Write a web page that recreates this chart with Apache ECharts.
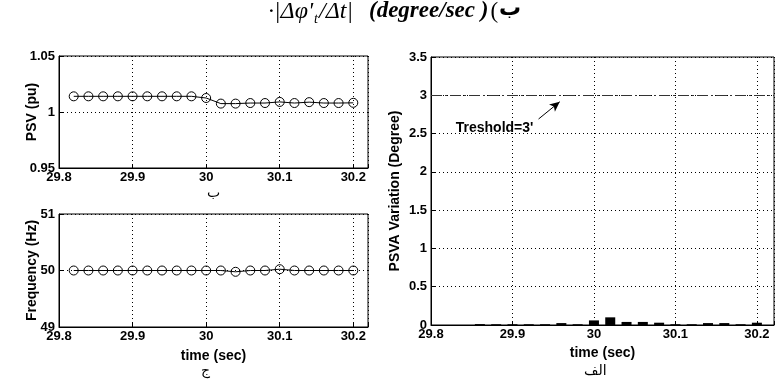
<!DOCTYPE html>
<html>
<head>
<meta charset="utf-8">
<script src="https://cdn.jsdelivr.net/npm/echarts@6/dist/echarts.min.js"></script>
<style>
  html, body { margin: 0; padding: 0; background: #fff; }
  #chart { width: 777px; height: 382px; }
</style>
</head>
<body>
<div id="chart"></div>
<script>
// Sample instants of the phasor estimates (s)
const sampleTimes = [29.82, 29.84, 29.86, 29.88, 29.90, 29.92, 29.94, 29.96, 29.98, 30.00,
                     30.02, 30.04, 30.06, 30.08, 30.10, 30.12, 30.14, 30.16, 30.18, 30.20];
// Positive-sequence voltage magnitude (pu)
const psvValues = [1.014, 1.014, 1.014, 1.014, 1.014, 1.014, 1.014, 1.014, 1.014, 1.0125,
                   1.0075, 1.0075, 1.008, 1.008, 1.009, 1.008, 1.0088, 1.008, 1.008, 1.0082];
// System frequency (Hz)
const freqValues = [50, 50, 50, 50, 50, 50, 50, 50, 50, 50,
                    50, 49.977, 50, 50, 50.023, 50, 50, 50, 50, 50];
// Angle variation per step (degree)
const barTimes = [29.86, 29.88, 29.90, 29.92, 29.94, 29.96, 29.98, 30.00, 30.02,
                  30.04, 30.06, 30.08, 30.10, 30.12, 30.14, 30.16, 30.18, 30.20];
const psvaValues = [0.012, 0.01, 0.01, 0.01, 0.01, 0.025, 0.01, 0.06, 0.1,
                    0.04, 0.04, 0.03, 0.01, 0.01, 0.025, 0.025, 0.01, 0.03];
const thresholdDeg = 3;
const thresholdText = "Treshold=3'";

const FONT = 'Liberation Sans, Arial, sans-serif';
const SERIF = '"Liberation Serif", "Times New Roman", serif';

function fmtTick(step, digits) {
  return function (v) {
    const k = v / step;
    if (Math.abs(k - Math.round(k)) > 1e-6) return '';
    return String(parseFloat(v.toFixed(digits)));
  };
}

const dotted = { show: true, lineStyle: { color: '#000', type: [1, 3], width: 1 } };
const tickLabel = { color: '#000', fontFamily: FONT, fontWeight: 'bold', fontSize: 13 };
const nameStyle = { color: '#000', fontFamily: FONT, fontWeight: 'bold', fontSize: 14 };

function xAxisDef(gridIndex, name, max, nameGap) {
  return {
    type: 'value', gridIndex, min: 29.8, max, interval: 0.1,
    name, nameLocation: 'middle', nameGap, nameMoveOverlap: false, nameTextStyle: nameStyle,
    axisLine: { show: true, onZero: false, lineStyle: { color: '#000', width: 1 } },
    axisTick: { show: true, inside: true, length: 4, lineStyle: { color: '#000' } },
    axisLabel: Object.assign({ margin: 3, formatter: fmtTick(0.1, 1) }, tickLabel),
    splitLine: dotted
  };
}
function yAxisDef(gridIndex, name, min, max, interval, digits, nameGap) {
  return {
    type: 'value', gridIndex, min, max, interval,
    name, nameLocation: 'middle', nameGap, nameMoveOverlap: false, nameTextStyle: nameStyle,
    axisLine: { show: true, lineStyle: { color: '#000', width: 1 } },
    axisTick: { show: true, inside: true, length: 4, lineStyle: { color: '#000' } },
    axisLabel: Object.assign({ margin: 4, formatter: fmtTick(interval, digits) }, tickLabel),
    splitLine: dotted
  };
}

const psvData = sampleTimes.map((t, i) => [t, psvValues[i]]);
const freqData = sampleTimes.map((t, i) => [t, freqValues[i]]);
const barData = barTimes.map((t, i) => [t, psvaValues[i]]);

const lineSeriesStyle = {
  type: 'line', symbol: 'circle', symbolSize: 9,
  itemStyle: { color: 'rgba(255,255,255,0)', borderColor: '#000', borderWidth: 1 },
  lineStyle: { color: '#000', width: 1 },
  emphasis: { disabled: true }, animation: false
};

// Heading pieces laid out left to right, each measured so they sit flush
const measureCtx = document.createElement('canvas').getContext('2d');
function headingPieces(startX) {
  const pieces = [
    { text: '·|Δφ', font: 'italic 24px ' + SERIF, dy: 0, gap: 0 },
    { text: "'", font: 'italic 24px ' + SERIF, dy: 0, gap: 1 },
    { text: 't', font: 'italic 14px ' + SERIF, dy: 12, gap: 1 },
    { text: '/Δt|', font: 'italic 24px ' + SERIF, dy: 0, gap: 16 },
    { text: '(degree/sec )', font: 'italic bold 23px ' + SERIF, dy: 0, gap: 2 },
    { text: '(', font: '23px ' + SERIF, dy: 0, gap: 1 },
    { text: 'ب', font: 'bold 22px "DejaVu Sans"', dy: -2, gap: 0 }
  ];
  let x = startX;
  return pieces.map(p => {
    measureCtx.font = p.font;
    const w = measureCtx.measureText(p.text).width;
    const el = { type: 'text', x: x, y: 0 + p.dy, style: { text: p.text, font: p.font, fill: '#000' } };
    x += w + p.gap;
    return el;
  });
}

const chart = echarts.init(document.getElementById('chart'), null, { renderer: 'canvas' });
chart.setOption({
  backgroundColor: '#fff',
  animation: false,
  grid: [
    { left: 59, top: 56, width: 309, height: 112, show: true, borderColor: '#000', borderWidth: 1, backgroundColor: 'transparent' },
    { left: 59, top: 214, width: 309, height: 113, show: true, borderColor: '#000', borderWidth: 1, backgroundColor: 'transparent' },
    { left: 431, top: 57, width: 352, height: 268, show: true, borderColor: '#000', borderWidth: 1, backgroundColor: 'transparent' }
  ],
  xAxis: [
    Object.assign(xAxisDef(0, 'ب', 30.22, 18), { nameTextStyle: Object.assign({}, nameStyle, { fontFamily: 'DejaVu Sans', fontWeight: 'normal', fontSize: 14 }) }),
    xAxisDef(1, 'time (sec)', 30.22, 22),
    xAxisDef(2, 'time (sec)', 30.221, 21)
  ],
  yAxis: [
    yAxisDef(0, 'PSV (pu)', 0.95, 1.05, 0.05, 2, 20),
    yAxisDef(1, 'Frequency (Hz)', 49, 51, 1, 0, 20),
    yAxisDef(2, 'PSVA Variation (Degree)', 0, 3.5, 0.5, 1, 29)
  ],
  series: [
    Object.assign({ name: 'PSV', xAxisIndex: 0, yAxisIndex: 0, data: psvData }, lineSeriesStyle),
    Object.assign({ name: 'Frequency', xAxisIndex: 1, yAxisIndex: 1, data: freqData }, lineSeriesStyle),
    {
      name: 'PSVA', type: 'bar', xAxisIndex: 2, yAxisIndex: 2, data: barData,
      barWidth: 10, itemStyle: { color: '#000' }, emphasis: { disabled: true },
      markLine: {
        silent: true, symbol: 'none', animation: false,
        label: { show: false },
        data: [
          [{ coord: [29.8, thresholdDeg], lineStyle: { color: '#333', width: 1, type: [11, 3, 2, 3] } },
           { coord: [30.221, thresholdDeg] }],
          [{ coord: [29.932, 2.69], symbol: 'none', lineStyle: { color: '#000', width: 1, type: 'solid' } },
           { coord: [29.958, 2.915], symbol: 'arrow', symbolSize: [7, 10] }]
        ]
      },
      markPoint: {
        silent: true, animation: false,
        data: [{
          coord: [29.878, 2.57], symbol: 'rect', symbolSize: 0,
          label: { show: true, position: 'inside', formatter: thresholdText, color: '#000',
                   fontFamily: FONT, fontWeight: 'bold', fontSize: 14 }
        }]
      }
    }
  ],
  graphic: [
    { type: 'text', left: 584, top: 364, style: { text: 'الف', font: '14px "DejaVu Sans"', fill: '#000' } },
    { type: 'text', left: 201, top: 364, style: { text: 'ج', font: '14px "DejaVu Sans"', fill: '#000' } }
  ].concat(headingPieces(268))
});
</script>
</body>
</html>
